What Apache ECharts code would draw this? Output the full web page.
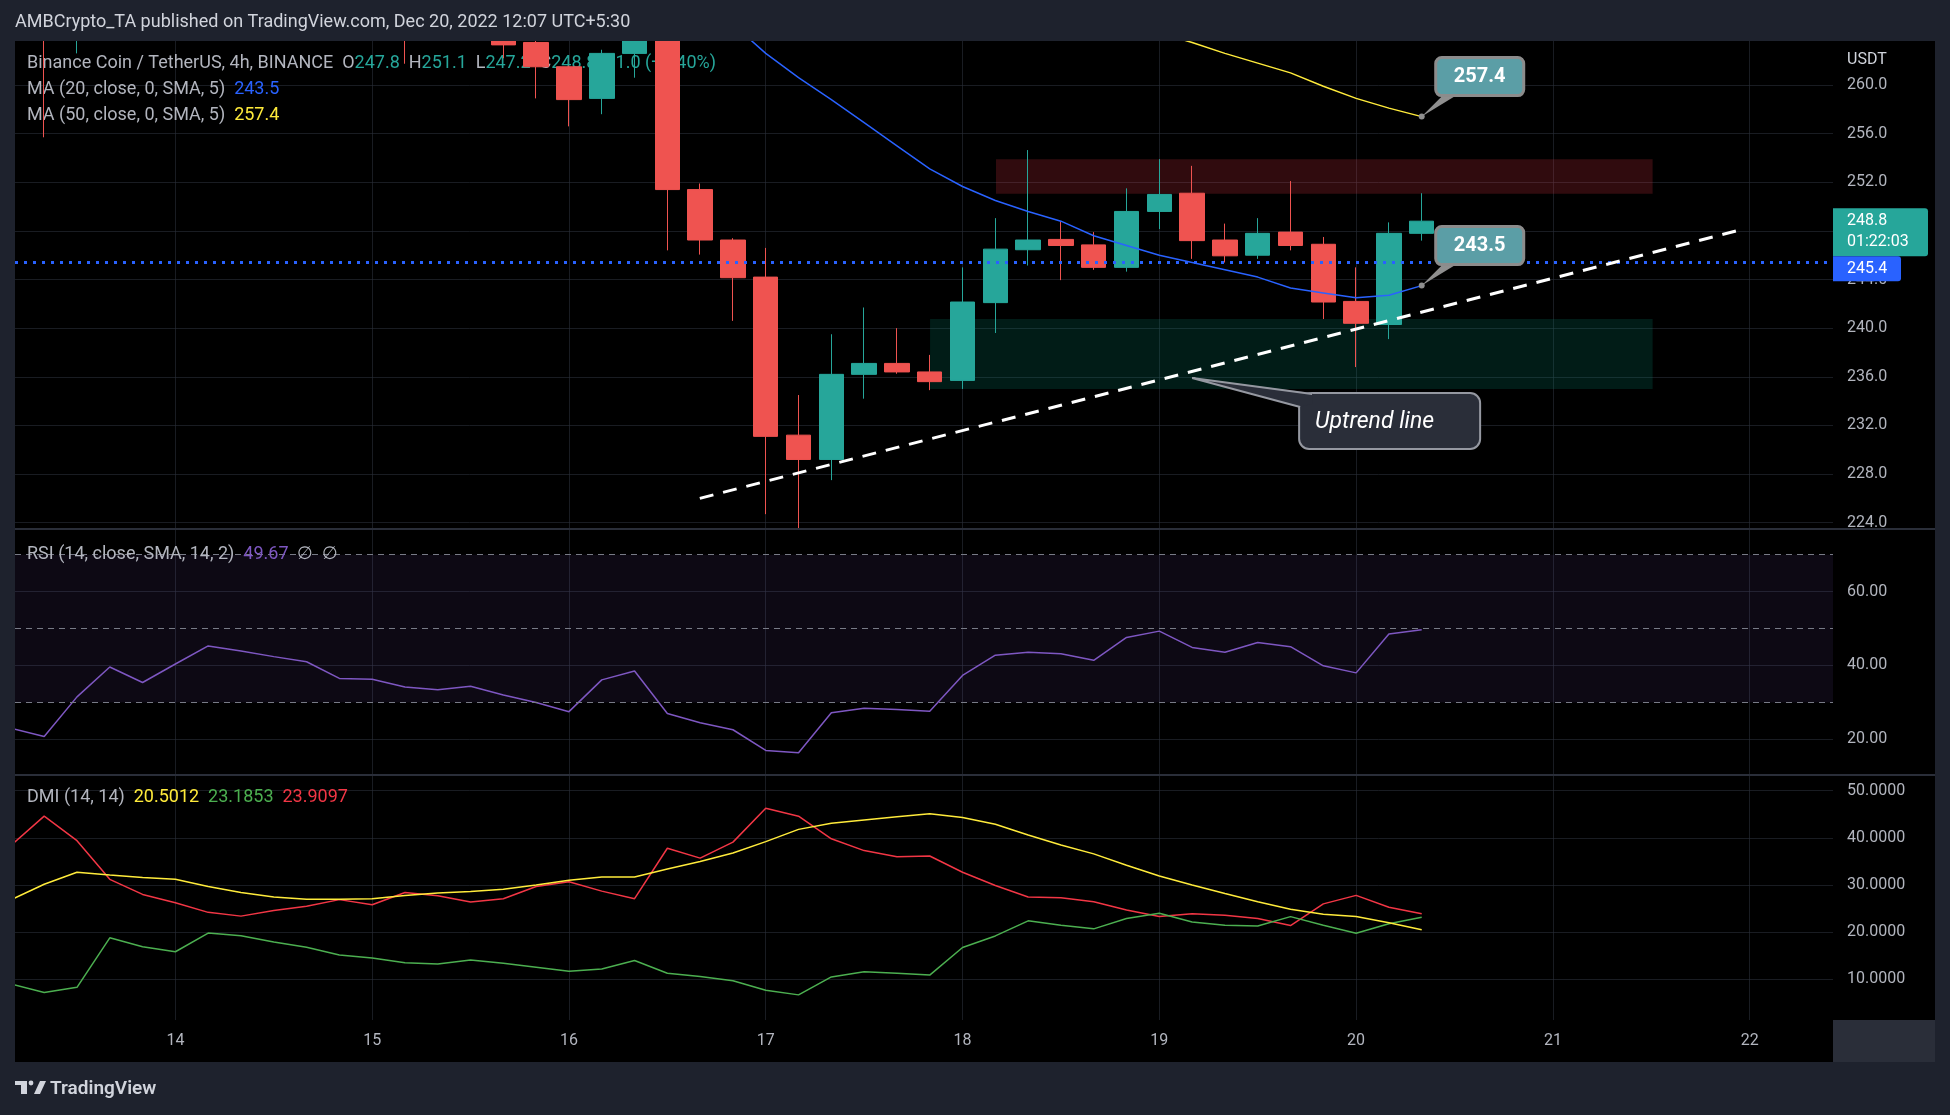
<!DOCTYPE html>
<html>
<head>
<meta charset="utf-8">
<title>BNB / USDT 4h</title>
<script src="https://cdn.jsdelivr.net/npm/echarts@6.0.0/dist/echarts.min.js"></script>
<style>
  html, body { margin: 0; padding: 0; background: #000; }
  #chart { width: 1950px; height: 1115px; }
</style>
</head>
<body>
<div id="chart"></div>
<script>
// 4h bars, x = bar index, 0 = Dec 14 00:00 (first bar is Dec 13 04:00)
const firstBar = -5;
const opens  = [276.0, 272.5, 265.5, 274.0, 280.0, 277.0, 281.5, 285.5, 284.0, 282.5, 281.0, 276.5, 276.0, 272.5, 271.0, 273.0, 263.5, 261.5, 258.9, 262.6, 264.6, 251.4, 247.25, 244.2, 231.2, 229.2, 236.2, 237.1, 236.4, 235.7, 242.1, 246.45, 247.3, 246.85, 245.0, 249.6, 251.1, 247.25, 246.0, 247.9, 246.9, 242.2, 240.3, 247.8];
const highs  = [278.0, 274.0, 276.0, 282.0, 281.5, 283.0, 287.0, 286.5, 285.0, 283.5, 282.0, 278.0, 277.0, 274.0, 274.5, 273.5, 264.2, 261.6, 262.9, 265.5, 265.0, 251.9, 247.4, 246.6, 234.5, 239.5, 241.7, 240.0, 237.8, 245.0, 249.05, 254.65, 248.8, 247.9, 251.5, 253.9, 253.35, 248.6, 249.05, 252.1, 247.5, 245.0, 248.7, 251.1];
const lows   = [268.0, 255.7, 262.6, 271.0, 275.0, 276.0, 280.0, 282.0, 281.0, 279.5, 275.0, 274.5, 261.75, 269.0, 269.5, 262.2, 258.9, 256.6, 257.6, 260.6, 246.4, 246.05, 240.6, 224.7, 223.4, 227.5, 234.2, 236.25, 234.9, 235.0, 239.6, 245.15, 243.95, 244.8, 244.65, 248.15, 245.7, 245.4, 245.7, 246.4, 240.75, 236.8, 239.1, 247.2];
const closes = [272.5, 265.5, 274.0, 280.0, 277.0, 281.5, 285.5, 284.0, 282.5, 281.0, 276.5, 276.0, 272.5, 271.0, 273.0, 263.3, 261.5, 258.8, 262.6, 264.6, 251.4, 247.25, 244.15, 231.1, 229.2, 236.2, 237.1, 236.4, 235.6, 242.15, 246.5, 247.25, 246.8, 245.0, 249.6, 251.0, 247.2, 245.95, 247.8, 246.8, 242.15, 240.4, 247.8, 248.8];

const ma20 = [281, 280.5, 280, 279.5, 279.2, 279, 278.8, 278.6, 278.4, 278.2, 278, 277.7, 277.4, 277, 276.5, 276, 275, 274, 272.5, 271, 269.5, 267.5, 265.0, 262.6, 260.6, 258.8, 256.9, 255.0, 253.1, 251.65, 250.5, 249.6, 248.8, 247.6, 246.8, 246.0, 245.4, 244.8, 244.2, 243.3, 242.9, 242.5, 242.7, 243.5];
const ma50 = [286.0, 285.6, 285.2, 284.9, 284.6, 284.3, 284.0, 283.7, 283.4, 283.1, 282.8, 282.4, 282.0, 281.6, 281.2, 280.7, 280.2, 279.6, 279.0, 278.4, 277.6, 276.8, 276.0, 275.0, 274.0, 273.0, 272.0, 271.0, 270.0, 269.0, 268.0, 267.2, 266.4, 265.6, 264.9, 264.3, 263.5, 262.6, 261.8, 261.0, 259.9, 258.9, 258.1, 257.4];

const rsi = [23.0, 20.8, 31.5, 39.6, 35.4, 40.4, 45.3, 43.9, 42.4, 41.0, 36.5, 36.3, 34.2, 33.4, 34.4, 32.0, 30.0, 27.5, 36.1, 38.5, 27.0, 24.5, 22.6, 17.0, 16.4, 27.2, 28.4, 28.1, 27.6, 37.3, 42.8, 43.6, 43.2, 41.4, 47.6, 49.3, 44.9, 43.6, 46.2, 45.1, 39.9, 38.0, 48.5, 49.67];

const adx     = [26.9, 30.15, 32.7, 32.1, 31.6, 31.2, 29.7, 28.4, 27.45, 27.0, 27.0, 27.1, 27.8, 28.3, 28.6, 29.1, 30.0, 31.0, 31.7, 31.7, 33.4, 35.0, 36.8, 39.2, 41.8, 43.1, 43.8, 44.5, 45.1, 44.3, 42.9, 40.6, 38.5, 36.6, 34.2, 31.9, 30.0, 28.2, 26.45, 24.85, 23.8, 23.3, 22.0, 20.5012];
const diPlus  = [9.0, 7.2, 8.3, 18.8, 16.9, 15.85, 19.8, 19.25, 17.9, 16.8, 15.15, 14.5, 13.5, 13.25, 14.1, 13.4, 12.55, 11.7, 12.2, 14.0, 11.3, 10.6, 9.7, 7.7, 6.7, 10.5, 11.6, 11.3, 10.9, 16.75, 19.2, 22.4, 21.45, 20.7, 22.9, 24.0, 22.15, 21.45, 21.3, 23.3, 21.45, 19.75, 21.8, 23.1853];
const diMinus = [38.5, 44.6, 39.4, 31.2, 28.0, 26.25, 24.2, 23.4, 24.6, 25.5, 26.9, 25.8, 28.4, 27.7, 26.4, 27.1, 29.7, 30.7, 28.7, 27.1, 37.8, 35.7, 39.1, 46.3, 44.6, 39.8, 37.3, 36.0, 36.15, 32.7, 29.9, 27.45, 27.3, 26.45, 24.7, 23.3, 23.9, 23.6, 22.9, 21.4, 26.0, 27.8, 25.3, 23.9097];

// ticks
const dayTicks = [0, 6, 12, 18, 24, 30, 36, 42, 48];
const dayLabels = ['14', '15', '16', '17', '18', '19', '20', '21', '22'];
const priceTicks = [224, 228, 232, 236, 240, 244, 248, 252, 256, 260];
const rsiTicks = [20, 40, 60];
const rsiBands = [70, 50, 30];
const dmiTicks = [10, 20, 30, 40, 50];

// drawings (bar index, price)
const hLineLevel = 245.4;
const trendLine = [[15.99, 226.0], [47.6, 248.0]];
const supplyZone = [[25.02, 253.9], [45.04, 251.06]];
const demandZone = [[23.01, 240.75], [45.04, 235.0]];
const noteAnchor = [31.0, 235.9];

const upColor = '#26a69a';
const downColor = '#ef5350';
const gridColor = 'rgba(42,46,57,0.6)';
const labelColor = '#b2b5be';
const frameColor = '#1e222d';
const fontFamily = 'Roboto, "Noto Sans", sans-serif';
const legendFont = '18px ' + fontFamily;

const xMin = -4.89, xMax = 50.54;

let myChart = echarts.init(document.getElementById('chart'));

const toXY = (arr) => arr.map((v, k) => [firstBar + k, v]);

function xAxisFor(gridIndex, showLabels) {
  return {
    type: 'value', gridIndex: gridIndex, min: xMin, max: xMax,
    axisLine: { show: false },
    axisTick: { show: false, customValues: dayTicks },
    axisLabel: {
      show: showLabels, customValues: dayTicks, color: labelColor,
      fontSize: 16, fontFamily: fontFamily, margin: 13,
      formatter: v => dayLabels[dayTicks.indexOf(v)]
    },
    splitLine: { show: true, lineStyle: { color: gridColor, width: 1 } }
  };
}

function yAxisFor(gridIndex, min, max, ticks, digits) {
  return {
    type: 'value', gridIndex: gridIndex, position: 'right', min: min, max: max,
    axisLine: { show: false },
    axisTick: { show: false, customValues: ticks },
    axisLabel: {
      customValues: ticks, color: labelColor, fontSize: 16, fontFamily: fontFamily, margin: 14,
      formatter: v => v.toFixed(digits)
    },
    splitLine: { show: true, lineStyle: { color: gridColor, width: 1 } }
  };
}

const thinLine = (color) => ({ color: color, width: 1.5 });

myChart.setOption({
  animation: false,
  backgroundColor: '#000',
  grid: [
    { left: 15, top: 41, width: 1818, height: 488 },
    { left: 15, top: 530, width: 1818, height: 245 },
    { left: 15, top: 776, width: 1818, height: 244 }
  ],
  xAxis: [xAxisFor(0, false), xAxisFor(1, false), xAxisFor(2, true)],
  yAxis: [
    yAxisFor(0, 223.48, 263.62, priceTicks, 1),
    yAxisFor(1, 10.35, 76.68, rsiTicks, 2),
    yAxisFor(2, 1.37, 53.12, dmiTicks, 4)
  ],
  series: [
    {
      type: 'candlestick', xAxisIndex: 0, yAxisIndex: 0, barWidth: 25, silent: true,
      data: opens.map((o, k) => [firstBar + k, o, closes[k], lows[k], highs[k]]),
      encode: { x: 0, y: [1, 2, 3, 4] },
      itemStyle: { color: upColor, color0: downColor, borderColor: upColor, borderColor0: downColor, borderWidth: 1 },
      markArea: {
        silent: true,
        data: [
          [{ coord: supplyZone[0], itemStyle: { color: 'rgba(242,54,69,0.2)' } }, { coord: supplyZone[1] }],
          [{ coord: demandZone[0], itemStyle: { color: 'rgba(8,153,129,0.18)' } }, { coord: demandZone[1] }]
        ]
      },
      markLine: {
        silent: true, symbol: ['none', 'none'], label: { show: false },
        data: [
          { yAxis: hLineLevel, lineStyle: { color: '#2962ff', width: 3, type: [3, 6] } },
          [{ coord: trendLine[0], lineStyle: { color: '#ffffff', width: 3, type: [14, 10] } }, { coord: trendLine[1] }]
        ]
      }
    },
    { type: 'line', xAxisIndex: 0, yAxisIndex: 0, data: toXY(ma20), showSymbol: false, silent: true, z: 3, lineStyle: thinLine('#2962ff') },
    { type: 'line', xAxisIndex: 0, yAxisIndex: 0, data: toXY(ma50), showSymbol: false, silent: true, z: 3, lineStyle: thinLine('#ffeb3b') },
    {
      type: 'line', xAxisIndex: 1, yAxisIndex: 1, data: toXY(rsi), showSymbol: false, silent: true,
      lineStyle: thinLine('#7e57c2'),
      markArea: {
        silent: true,
        data: [[{ coord: [xMin, rsiBands[2]], itemStyle: { color: 'rgba(126,87,194,0.1)' } }, { coord: [xMax, rsiBands[0]] }]]
      },
      markLine: {
        silent: true, symbol: ['none', 'none'], label: { show: false },
        lineStyle: { color: '#787b86', width: 1, type: [6, 5] },
        data: rsiBands.map(v => ({ yAxis: v }))
      }
    },
    { type: 'line', xAxisIndex: 2, yAxisIndex: 2, data: toXY(diMinus), showSymbol: false, silent: true, lineStyle: thinLine('#f23645') },
    { type: 'line', xAxisIndex: 2, yAxisIndex: 2, data: toXY(diPlus), showSymbol: false, silent: true, lineStyle: thinLine('#4caf50') },
    { type: 'line', xAxisIndex: 2, yAxisIndex: 2, data: toXY(adx), showSymbol: false, silent: true, lineStyle: thinLine('#ffeb3b') }
  ]
});

// annotations placed through the grid's own scales
const last = opens.length - 1;
const lastX = firstBar + last;
const px = (g, p) => myChart.convertToPixel({ gridIndex: g }, p);

function text(x, y, str, fill, font, extra) {
  return Object.assign({
    type: 'text', x: x, y: y, z: 12, silent: true,
    style: { text: str, fill: fill, font: font || legendFont, verticalAlign: 'middle' }
  }, extra || {});
}

function richText(x, y, parts, z) {
  const rich = {};
  let str = '';
  parts.forEach((p, i) => {
    rich['p' + i] = { fill: p[1], font: legendFont };
    str += '{p' + i + '|' + p[0] + '}';
  });
  return { type: 'text', x: x, y: y, z: z, silent: true, style: { text: str, rich: rich, font: legendFont, verticalAlign: 'middle' } };
}

function callout(pt, label) {
  const [ax, ay] = pt;
  return [
    { type: 'polygon', z: 20, silent: true, shape: { points: [[ax, ay], [ax + 22, ay - 22], [ax + 36, ay - 22]] }, style: { fill: '#8f8f8f' } },
    { type: 'circle', z: 20, silent: true, shape: { cx: ax, cy: ay, r: 3 }, style: { fill: '#8f8f8f' } },
    { type: 'rect', z: 21, silent: true, shape: { x: ax + 14, y: ay - 59, width: 88, height: 38, r: 6 }, style: { fill: '#5b9ea6', stroke: '#8c8c8c', lineWidth: 3 } },
    { type: 'text', z: 22, silent: true, x: ax + 58, y: ay - 40, style: { text: label, fill: '#fff', font: 'bold 20px ' + fontFamily, align: 'center', verticalAlign: 'middle' } }
  ];
}

const change = closes[last] - closes[last - 1];
const changePct = change / closes[last - 1] * 100;
const sign = change >= 0 ? '+' : '';

const ma50Pt = px(0, [lastX, ma50[last]]);
const ma20Pt = px(0, [lastX, ma20[last]]);
const closeY = px(0, [lastX, closes[last]])[1];
const tip = px(0, noteAnchor);

let graphics = [
  // frame
  { type: 'rect', z: 10, silent: true, shape: { x: 0, y: 0, width: 1950, height: 41 }, style: { fill: frameColor } },
  { type: 'rect', z: 10, silent: true, shape: { x: 0, y: 0, width: 15, height: 1115 }, style: { fill: frameColor } },
  { type: 'rect', z: 10, silent: true, shape: { x: 1935, y: 0, width: 15, height: 1115 }, style: { fill: frameColor } },
  { type: 'rect', z: 10, silent: true, shape: { x: 0, y: 1062, width: 1950, height: 53 }, style: { fill: frameColor } },
  { type: 'rect', z: 10, silent: true, shape: { x: 15, y: 528, width: 1920, height: 2 }, style: { fill: '#2a2e39' } },
  { type: 'rect', z: 10, silent: true, shape: { x: 15, y: 774, width: 1920, height: 2 }, style: { fill: '#2a2e39' } },
  { type: 'rect', z: 10, silent: true, shape: { x: 1833, y: 1020, width: 102, height: 42 }, style: { fill: '#2a2e39' } },
  text(15, 22, 'AMBCrypto_TA published on TradingView.com, Dec 20, 2022 12:07 UTC+5:30', '#d1d4dc', '18px ' + fontFamily),
  // footer logo
  { type: 'rect', z: 12, silent: true, shape: { x: 15, y: 1081, width: 12, height: 4 }, style: { fill: '#d1d4dc' } },
  { type: 'rect', z: 12, silent: true, shape: { x: 21, y: 1081, width: 6, height: 13 }, style: { fill: '#d1d4dc' } },
  { type: 'circle', z: 12, silent: true, shape: { cx: 31, cy: 1083, r: 2.4 }, style: { fill: '#d1d4dc' } },
  { type: 'polygon', z: 12, silent: true, shape: { points: [[34, 1094], [40, 1094], [46, 1081], [40, 1081]] }, style: { fill: '#d1d4dc' } },
  text(50, 1089, 'TradingView', '#d1d4dc', '600 19px ' + fontFamily),
  // price scale
  text(1847, 60, 'USDT', '#d1d4dc', '16px ' + fontFamily),
  { type: 'rect', z: 12, silent: true, shape: { x: 1833, y: closeY - 13, width: 95, height: 48, r: [0, 3, 3, 0] }, style: { fill: upColor } },
  text(1847, closeY, closes[last].toFixed(1), '#ffffff', '16px ' + fontFamily, { z: 13 }),
  text(1847, closeY + 21, '01:22:03', '#ffffff', '16px ' + fontFamily, { z: 13 }),
  { type: 'rect', z: 12, silent: true, shape: { x: 1833, y: closeY + 35, width: 68, height: 25, r: [0, 3, 3, 0] }, style: { fill: '#2962ff' } },
  text(1847, closeY + 47.5, hLineLevel.toFixed(1), '#ffffff', '16px ' + fontFamily, { z: 13 }),
  // pane legends (under the candles)
  richText(27, 63, [
    ['Binance Coin / TetherUS, 4h, BINANCE  O', labelColor], [opens[last].toFixed(1), upColor],
    ['  H', labelColor], [highs[last].toFixed(1), upColor],
    ['  L', labelColor], [lows[last].toFixed(1), upColor],
    ['  C', labelColor], [closes[last].toFixed(1), upColor],
    ['  ' + sign + change.toFixed(1) + ' (' + sign + changePct.toFixed(2) + '%)', upColor]
  ], 1),
  richText(27, 89.5, [['MA (20, close, 0, SMA, 5)  ', labelColor], [ma20[last].toFixed(1), '#2962ff']], 1),
  richText(27, 115.5, [['MA (50, close, 0, SMA, 5)  ', labelColor], [ma50[last].toFixed(1), '#ffeb3b']], 1),
  richText(27, 554, [['RSI (14, close, SMA, 14, 2)  ', labelColor], [rsi[last].toFixed(2), '#7e57c2'], ['  \u2205  \u2205', labelColor]], 12),
  richText(27, 797.5, [['DMI (14, 14)  ', labelColor], [adx[last].toFixed(4), '#ffeb3b'], ['  ', labelColor], [diPlus[last].toFixed(4), '#4caf50'], ['  ', labelColor], [diMinus[last].toFixed(4), '#f23645']], 12),
  // "Uptrend line" note
  { type: 'rect', z: 20, silent: true, shape: { x: tip[0] + 107, y: tip[1] + 15, width: 181, height: 56, r: 10 }, style: { fill: '#2a2e39', stroke: '#9598a1', lineWidth: 2 } },
  { type: 'polygon', z: 21, silent: true, shape: { points: [[tip[0], tip[1]], [tip[0] + 120, tip[1] + 15], [tip[0] + 120, tip[1] + 26], [tip[0] + 107, tip[1] + 29]] }, style: { fill: '#2a2e39' } },
  { type: 'polyline', z: 22, silent: true, shape: { points: [[tip[0] + 120, tip[1] + 16], [tip[0], tip[1]], [tip[0] + 108, tip[1] + 29]] }, style: { stroke: '#9598a1', lineWidth: 2, fill: null } },
  text(tip[0] + 123, tip[1] + 44, 'Uptrend line', '#ffffff', 'italic 23px ' + fontFamily, { z: 23 })
];

graphics = graphics.concat(callout(ma50Pt, ma50[last].toFixed(1)), callout(ma20Pt, ma20[last].toFixed(1)));

myChart.setOption({ graphic: graphics });
</script>
</body>
</html>
